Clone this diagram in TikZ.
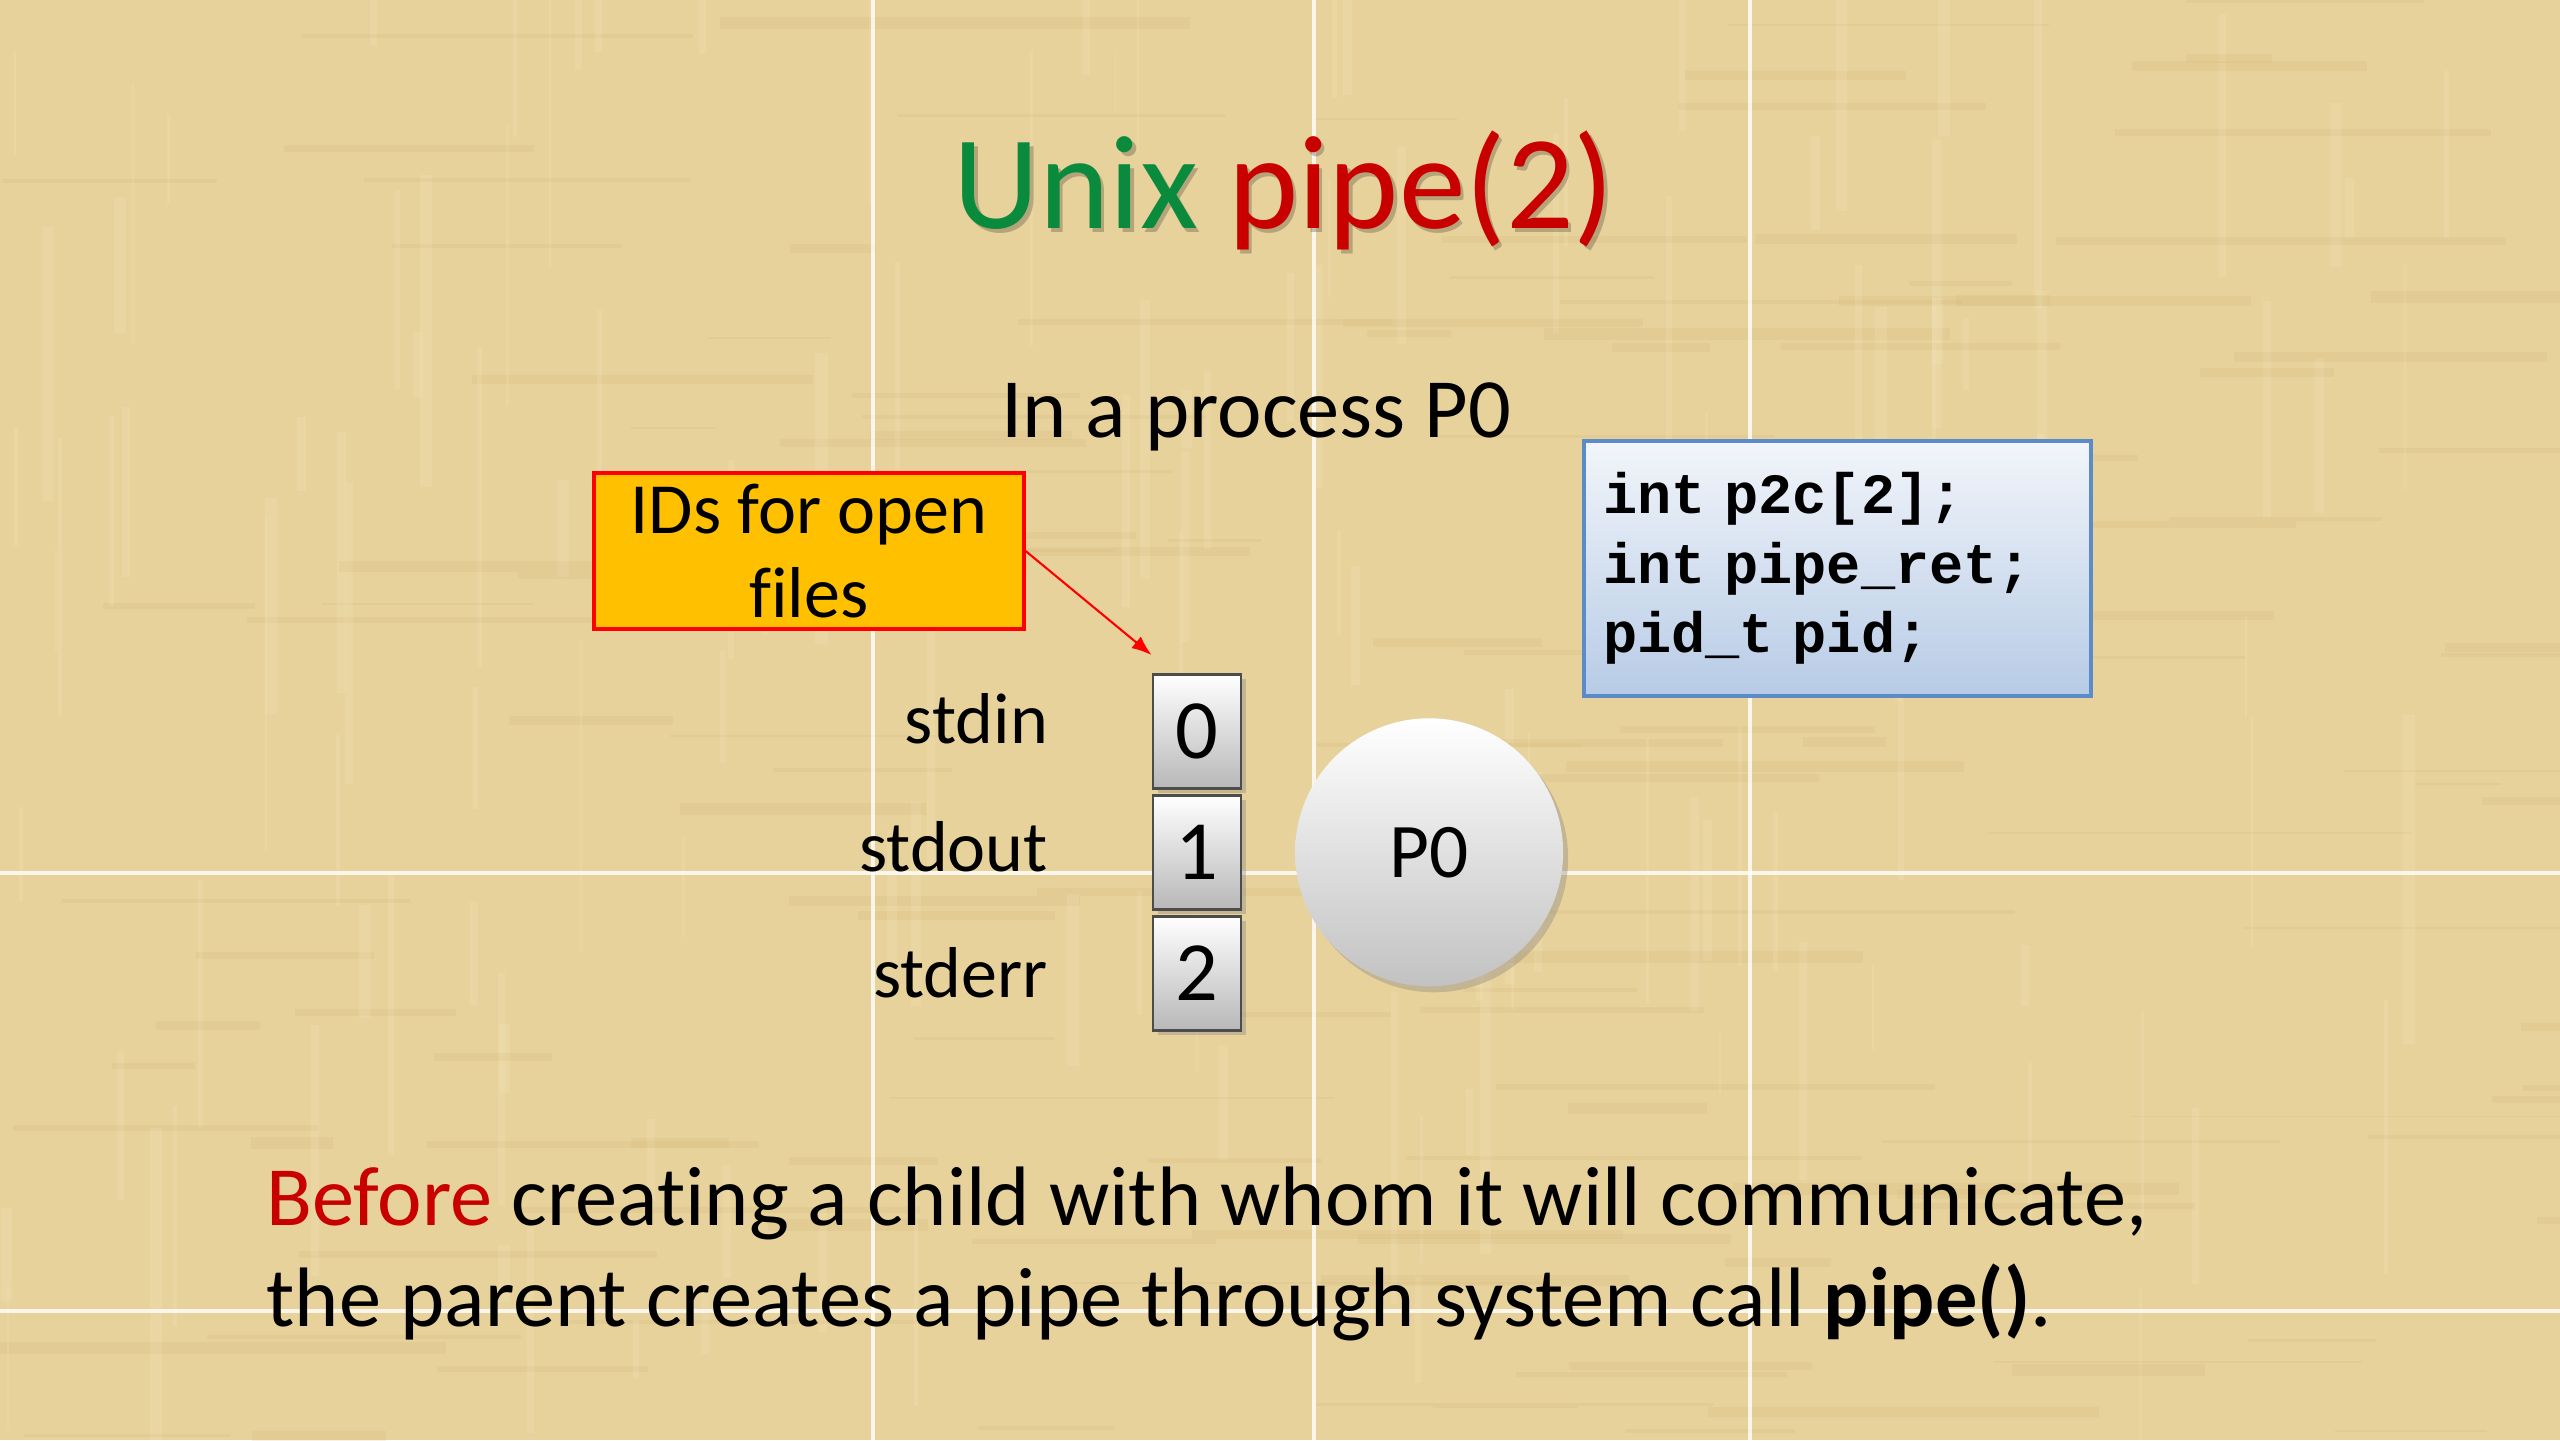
\documentclass[tikz,border=0pt]{standalone}
\usepackage{fontspec}
\setmainfont[Ligatures={NoCommon}]{Carlito}
\newfontfamily\codefont{Liberation Mono}
\usetikzlibrary{positioning, arrows.meta, shadows, calc}
\definecolor{papyrus}{HTML}{E8D29C}
\definecolor{fibredark}{HTML}{CDB06C}
\definecolor{fibrelight}{HTML}{F6E9C4}
\definecolor{titlegreen}{HTML}{0A8A3C}
\definecolor{titlered}{HTML}{C80000}
\definecolor{idyellow}{HTML}{FFC000}
\definecolor{codeblue}{HTML}{5B8BC9}
\definecolor{codetop}{HTML}{F2F5FA}
\definecolor{codebot}{HTML}{B7CBE6}

\begin{document}
\begin{tikzpicture}[
  every node/.style={font=\fontsize{24}{28.8}\selectfont, inner sep=0pt},
  tit/.style   ={font=\fontsize{38}{44}\selectfont, anchor=base},
  sub/.style   ={anchor=base},
  idbox/.style ={draw=red, line width=0.9pt, fill=idyellow, align=center,
                 minimum width=4.30cm, minimum height=1.56cm,
                 font=\fontsize{20.5}{24}\selectfont},
  fdcell/.style={draw=black!70, line width=0.8pt, top color=white,
                 bottom color=black!28, minimum width=0.88cm,
                 minimum height=1.14cm,
                 drop shadow={shadow xshift=0.05cm, shadow yshift=-0.05cm,
                              opacity=0.35}},
  fdlab/.style ={font=\fontsize{20.5}{24}\selectfont, anchor=east},
  proc/.style  ={circle, minimum size=2.68cm, top color=white,
                 bottom color=black!24, font=\fontsize{22}{26}\selectfont,
                 drop shadow={shadow xshift=0.05cm, shadow yshift=-0.06cm,
                              opacity=0.35}},
  codebox/.style={draw=codeblue, line width=1.2pt, top color=codetop,
                 bottom color=codebot, align=left, text width=4.69cm,
                 inner xsep=0.19cm, minimum height=2.55cm,
                 font=\codefont\bfseries\fontsize{16.2}{19.8}\selectfont},
  body/.style  ={anchor=base west},
  idarr/.style ={-{Latex[length=0.2cm, width=0.15cm]}, line width=0.6pt,
                 draw=red},
  seam/.style  ={draw=white, line width=1.1pt, opacity=0.8}
]
\useasboundingbox (0,0) rectangle (25.6,14.4);

%% ─── background ────────────────────────────────────────────────────────────
\begin{scope}
  \clip (0,0) rectangle (25.6,14.4);
  \fill[papyrus] (0,0) rectangle (25.6,14.4);
  \pgfmathsetseed{11}
  \foreach \i in {1,...,140}{
    \pgfmathsetmacro\fx{rnd*25.6}
    \pgfmathsetmacro\fy{rnd*14.4}
    \pgfmathsetmacro\fl{0.8+rnd*4}
    \pgfmathsetmacro\fw{0.5+rnd*3}
    \draw[fibredark, opacity=0.16, line width=\fw pt] (\fx,\fy) -- ++(\fl,0);
    \draw[fibrelight, opacity=0.18, line width=\fw pt] (\fy*1.7,\fx*0.55) -- ++(0,\fl*0.7);
  }
  \foreach \gx in {8.73, 13.14, 17.50}
    \draw[seam] (\gx,0) -- (\gx,14.4);
  \foreach \gy in {5.67, 1.29}
    \draw[seam] (0,\gy) -- (25.6,\gy);
\end{scope}

%% ─── titles ────────────────────────────────────────────────────────────────
\node[tit, text=black, opacity=0.22] (title_sh) at (12.875,12.075)
  {Unix pipe(2)};
\node[tit] (title) at (12.84,12.11)
  {\textcolor{titlegreen}{Unix} \textcolor{titlered}{pipe(2)}};
\node[sub] (proc_t) at (12.56,10.02) {In a process P0};

%% ─── descriptor table ──────────────────────────────────────────────────────
\node[fdcell] (fd0) at (11.97,7.085) {0};
\node[fdcell, below=0.04cm of fd0] (fd1) {1};
\node[fdcell, below=0.04cm of fd1] (fd2) {2};

\node[fdlab, left=1.03cm of fd0.west, yshift=0.13cm] (lab0) {stdin};
\node[fdlab, left=1.03cm of fd1.west, yshift=0.06cm] (lab1) {stdout};
\node[fdlab, left=1.03cm of fd2.west] (lab2) {stderr};

\node[proc, right=0.52cm of fd1] (p0) {P0};

%% ─── callouts ──────────────────────────────────────────────────────────────
\node[idbox] (ids) at (8.09,8.89) {IDs for open\\files};
\coordinate (ids_tip) at ($(fd0.north west)+(0,0.18)$);
\draw[idarr] (ids.east) -- (ids_tip);

\node[codebox] (decl) at (18.375,8.715)
  {int p2c[2];\\int pipe\_ret;\\pid\_t pid;};

%% ─── caption ───────────────────────────────────────────────────────────────
\node[body] (cap1) at (2.66,2.15)
  {\textcolor{titlered}{Before} creating a child with whom it will communicate,};
\node[body] (cap2) at (2.66,1.14)
  {the parent creates a pipe through system call \textbf{pipe()}.};

\end{tikzpicture}
\end{document}
